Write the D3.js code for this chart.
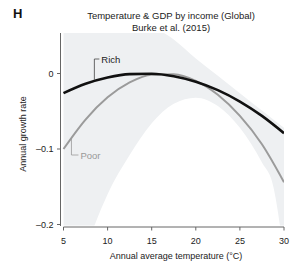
<!DOCTYPE html>
<html>
<head>
<meta charset="utf-8">
<script src="https://cdn.jsdelivr.net/npm/d3@7"></script>
<style>
  body { margin: 0; background: #fff; }
  text { font-family: "Liberation Sans", Arial, sans-serif; fill: #222; }
</style>
</head>
<body>
<div id="chart"></div>
<script>
// Curve values (annual growth rate) by annual average temperature
let temps = [5, 7.5, 10, 12.5, 15, 17.5, 20, 22.5, 25, 27.5, 30];
let rich = [-0.026, -0.0136, -0.0053, -0.0008, -0.0003, -0.0036, -0.0109, -0.0221, -0.0372, -0.0562, -0.0791];
let poor = [-0.1, -0.061, -0.0316, -0.0118, -0.0016, -0.0009, -0.0097, -0.0282, -0.0562, -0.0937, -0.144];

// Confidence band
let bandTemps = [5, 7.5, 10, 12.5, 15, 17.5, 20, 22.5, 25, 27.5, 28.75, 30];
let bandUpper = [0.2, 0.16, 0.125, 0.095, 0.065, 0.045, 0.02, -0.003, -0.026, -0.049, -0.0605, -0.072];
let bandLower = [-0.34, -0.235, -0.16, -0.108, -0.066, -0.04, -0.032, -0.043, -0.072, -0.118, -0.148, -0.24];

let xTicks = [5, 10, 15, 20, 25, 30];
let yTicks = [0, -0.1, -0.2];

// label anchors: temperature where the leader line touches the curve
let richLabel = { name: "Rich", t: 8.5, v: -0.0098 };
let poorLabel = { name: "Poor", t: 5.9, v: -0.085 };

let width = 290, height = 262;

let xScale = d3.scaleLinear().domain([5, 30]).range([63.5, 284]);
let yScale = d3.scaleLinear().domain([-0.2, 0]).range([224.5, 73.5]);

let plotTop = 33, plotBottom = 225.5, plotLeft = 61, plotRight = 284;

let svg = d3.select("#chart")
    .append("svg")
    .attr("width", width)
    .attr("height", height);

svg.append("defs").append("clipPath")
    .attr("id", "plotclip")
    .append("rect")
    .attr("x", plotLeft)
    .attr("y", plotTop)
    .attr("width", plotRight - plotLeft)
    .attr("height", plotBottom - plotTop);

let plot = svg.append("g").attr("clip-path", "url(#plotclip)");

// band
let bandData = bandTemps.map((t, i) => ({ t: t, hi: bandUpper[i], lo: bandLower[i] }));
let area = d3.area()
    .x(d => xScale(d.t))
    .y0(d => yScale(d.lo))
    .y1(d => yScale(d.hi))
    .curve(d3.curveMonotoneX);

plot.append("path")
    .datum(bandData)
    .attr("d", area)
    .attr("fill", "#eef0f2");

let line = d3.line()
    .x(d => xScale(d.t))
    .y(d => yScale(d.v))
    .curve(d3.curveMonotoneX);

plot.append("path")
    .datum(temps.map((t, i) => ({ t: t, v: poor[i] })))
    .attr("d", line)
    .attr("fill", "none")
    .attr("stroke", "#9b9b9b")
    .attr("stroke-width", 2);

plot.append("path")
    .datum(temps.map((t, i) => ({ t: t, v: rich[i] })))
    .attr("d", line)
    .attr("fill", "none")
    .attr("stroke", "#111")
    .attr("stroke-width", 2.6);

// leader labels
let rx = xScale(richLabel.t), ry = yScale(richLabel.v);
svg.append("path")
    .attr("d", `M${rx},${ry - 1} V59 H${rx + 5}`)
    .attr("fill", "none")
    .attr("stroke", "#444")
    .attr("stroke-width", 0.8);
svg.append("text")
    .attr("x", rx + 7)
    .attr("y", 62.5)
    .style("font-size", "9.5px")
    .text(richLabel.name);

let px = xScale(poorLabel.t), py = yScale(poorLabel.v);
svg.append("path")
    .attr("d", `M${px},${py + 1} V155 H${px + 7}`)
    .attr("fill", "none")
    .attr("stroke", "#9b9b9b")
    .attr("stroke-width", 0.8);
svg.append("text")
    .attr("x", px + 9)
    .attr("y", 158.5)
    .style("font-size", "9.5px")
    .style("fill", "#999")
    .text(poorLabel.name);

// y axis
let yAxis = svg.append("g").attr("transform", "translate(60.5,0)");
yAxis.append("line")
    .attr("y1", plotTop).attr("y2", 226)
    .attr("stroke", "#666").attr("stroke-width", 1);
yAxis.selectAll(".ytick")
    .data(yTicks)
    .enter().append("line")
    .attr("x1", -3.5).attr("x2", 0)
    .attr("y1", d => yScale(d)).attr("y2", d => yScale(d))
    .attr("stroke", "#666");
yAxis.selectAll(".ylab")
    .data(yTicks)
    .enter().append("text")
    .attr("x", -7)
    .attr("y", d => yScale(d))
    .attr("dy", "0.35em")
    .attr("text-anchor", "end")
    .style("font-size", "9px")
    .text(d => d === 0 ? "0" : "\u2013" + d3.format(".1f")(-d));

// x axis
let xAxis = svg.append("g").attr("transform", "translate(0,227)");
xAxis.append("line")
    .attr("x1", xScale(5)).attr("x2", xScale(30))
    .attr("stroke", "#666");
xAxis.selectAll(".xtick")
    .data(xTicks)
    .enter().append("line")
    .attr("x1", d => xScale(d)).attr("x2", d => xScale(d))
    .attr("y1", 0).attr("y2", 3.5)
    .attr("stroke", "#666");
xAxis.selectAll(".xlab")
    .data(xTicks)
    .enter().append("text")
    .attr("x", d => xScale(d))
    .attr("y", 17)
    .attr("text-anchor", "middle")
    .style("font-size", "9px")
    .text(d => d);

// axis titles
svg.append("text")
    .attr("x", 176)
    .attr("y", 259)
    .attr("text-anchor", "middle")
    .style("font-size", "9px")
    .text("Annual average temperature (\u00B0C)");

svg.append("text")
    .attr("transform", "translate(25.5,134) rotate(-90)")
    .attr("text-anchor", "middle")
    .style("font-size", "9px")
    .text("Annual growth rate");

// titles
svg.append("text")
    .attr("x", 171)
    .attr("y", 18.5)
    .attr("text-anchor", "middle")
    .style("font-size", "9.5px")
    .text("Temperature & GDP by income (Global)");

svg.append("text")
    .attr("x", 171)
    .attr("y", 31)
    .attr("text-anchor", "middle")
    .style("font-size", "9.5px")
    .text("Burke et al. (2015)");

svg.append("text")
    .attr("x", 13)
    .attr("y", 18)
    .style("font-size", "13px")
    .style("font-weight", "bold")
    .style("fill", "#111")
    .text("H");
</script>
</body>
</html>
